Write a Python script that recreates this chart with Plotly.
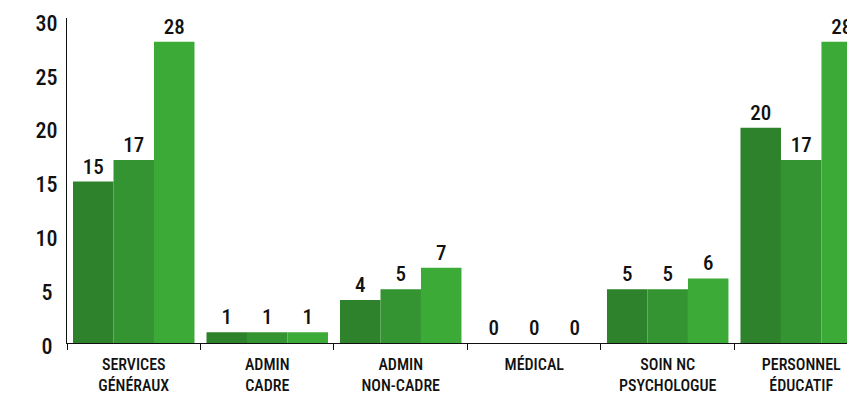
import plotly.graph_objects as go

# Staff categories along the x axis
categories = [
    "SERVICES<br>GÉNÉRAUX",
    "ADMIN<br>CADRE",
    "ADMIN<br>NON-CADRE",
    "MÉDICAL",
    "SOIN NC<br>PSYCHOLOGUE",
    "PERSONNEL<br>ÉDUCATIF",
]

# Three series (one bar per series in each category)
series_1 = [15, 1, 4, 0, 5, 20]
series_2 = [17, 1, 5, 0, 5, 17]
series_3 = [28, 1, 7, 0, 6, 28]

# Y ticks; single digits get a quarter-em space so labels sit centred
y_ticks = [0, 5, 10, 15, 20, 25, 30]
y_tick_labels = ["0\u2005", "5\u2005", "10", "15", "20", "25", "30"]

colors = ["#2e822b", "#359432", "#3caa36"]
font_family = "Roboto Condensed, Roboto, sans-serif"
ink = "#111111"

fig = go.Figure()
for vals, col in zip([series_1, series_2, series_3], colors):
    fig.add_trace(
        go.Bar(
            x=categories,
            y=vals,
            marker=dict(color=col, line=dict(width=0)),
            text=[str(v) for v in vals],
            textposition="outside",
            textfont=dict(family=font_family, size=21, color=ink, weight=500),
            cliponaxis=False,
            showlegend=False,
        )
    )

fig.update_layout(
    width=847,
    height=395,
    margin=dict(l=67, r=0, t=18, b=52, autoexpand=False),
    paper_bgcolor="white",
    plot_bgcolor="white",
    barmode="group",
    bargap=0.09,
    bargroupgap=0,
    font=dict(family=font_family, color=ink),
)

fig.update_xaxes(
    type="category",
    range=[-0.5, 5.343],
    automargin=False,
    showline=True,
    linecolor=ink,
    linewidth=1,
    showgrid=False,
    ticks="outside",
    tickson="boundaries",
    ticklen=6,
    tickcolor=ink,
    tickfont=dict(size=16, family=font_family, color=ink, weight=500),
    ticklabelstandoff=7,
)

fig.update_yaxes(
    range=[0, 30.2],
    automargin=False,
    tickvals=y_ticks,
    ticktext=y_tick_labels,
    showline=True,
    linecolor=ink,
    linewidth=1,
    showgrid=False,
    zeroline=False,
    ticks="",
    tickfont=dict(size=22, family=font_family, color=ink, weight=500),
    ticklabelstandoff=4,
    ticklabelshift=3,
)

fig.write_html("out.html")
